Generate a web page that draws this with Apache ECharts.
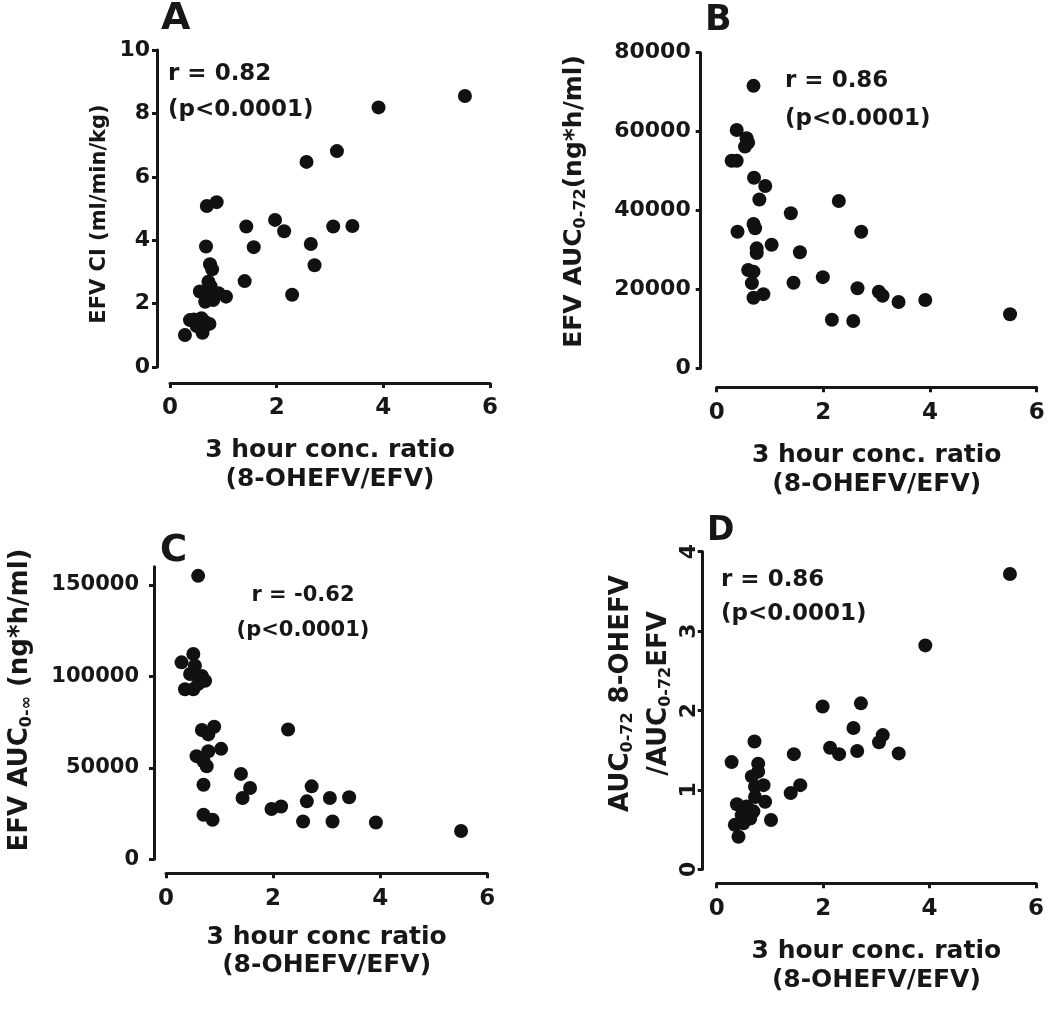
<!DOCTYPE html>
<html><head><meta charset="utf-8">
<script src="https://cdn.jsdelivr.net/npm/echarts@6/dist/echarts.min.js"></script>
<style>html,body{margin:0;padding:0;background:#fff}#c{width:1050px;height:1013px}</style>
</head><body><div id="c"></div><script>
// ---- Panel A: EFV CI vs 3 h ratio
const aX = [5.53, 3.91, 3.13, 2.56, 0.69, 0.875, 1.43, 1.97, 2.14, 3.06, 3.42, 0.675, 1.57, 2.64, 2.71, 0.75, 0.79, 1.40, 2.29, 0.72, 0.56, 0.72, 0.91, 1.05, 0.66, 0.81, 0.76, 0.375, 0.59, 0.74, 0.5, 0.61, 0.28, 0.45, 0.66];
const aY = [8.55, 8.19, 6.81, 6.47, 5.08, 5.20, 4.43, 4.64, 4.28, 4.43, 4.45, 3.80, 3.78, 3.88, 3.21, 3.24, 3.08, 2.71, 2.28, 2.69, 2.38, 2.35, 2.33, 2.22, 2.06, 2.11, 2.55, 1.48, 1.54, 1.36, 1.29, 1.08, 1.01, 1.50, 1.42];
// ---- Panel B: EFV AUC0-72 vs 3 h ratio
const bX = [0.69, 0.375, 0.56, 0.59, 0.53, 0.28, 0.375, 0.70, 0.91, 0.80, 2.29, 1.39, 0.69, 0.72, 0.39, 2.71, 1.03, 0.75, 0.75, 1.56, 0.59, 0.69, 1.99, 1.44, 0.66, 2.64, 3.04, 3.11, 3.41, 3.91, 0.69, 0.875, 5.50, 2.16, 2.56];
const bY = [71600, 60400, 58300, 57200, 56200, 52600, 52600, 48300, 46200, 42800, 42400, 39300, 36600, 35500, 34600, 34600, 31300, 30400, 29200, 29400, 24900, 24500, 23100, 21700, 21600, 20300, 19400, 18400, 16800, 17300, 17900, 18800, 13700, 12300, 12000];
// ---- Panel C: EFV AUC0-inf vs 3 h ratio
const cX = [0.60, 0.51, 0.29, 0.54, 0.67, 0.45, 0.73, 0.355, 0.51, 0.60, 2.28, 0.67, 0.90, 0.79, 1.03, 0.57, 0.79, 0.70, 0.76, 1.40, 0.70, 1.57, 1.43, 2.72, 2.63, 3.06, 3.42, 1.97, 2.15, 0.70, 0.87, 2.56, 3.11, 3.92, 5.51];
const cY = [155000, 112300, 107700, 105800, 100300, 101300, 97600, 93000, 93000, 95800, 71000, 70700, 72500, 68300, 60400, 56400, 59100, 53600, 50900, 46700, 40800, 39000, 33500, 39900, 31700, 33500, 33900, 27500, 28900, 24400, 21600, 20700, 20700, 20100, 15500];
// ---- Panel D: AUC ratio vs 3 h ratio
const dX = [5.51, 3.92, 2.71, 1.99, 2.57, 3.12, 3.05, 2.13, 2.30, 2.64, 3.42, 0.71, 1.45, 0.28, 0.78, 0.78, 0.66, 0.88, 0.72, 0.91, 0.72, 0.38, 0.56, 0.69, 0.47, 0.63, 0.34, 0.50, 0.41, 1.02, 1.57, 1.39];
const dY = [3.72, 2.82, 2.09, 2.05, 1.78, 1.69, 1.60, 1.53, 1.45, 1.49, 1.46, 1.61, 1.45, 1.35, 1.33, 1.23, 1.17, 1.06, 1.04, 0.85, 0.91, 0.82, 0.79, 0.73, 0.68, 0.64, 0.56, 0.58, 0.41, 0.62, 1.06, 0.96];

const cYTicks = [0, 50000, 100000, 150000];
const panelLetters = ['A', 'B', 'C', 'D'];
const rTexts = ['r = 0.82', 'r = 0.86', 'r = -0.62', 'r = 0.86'];
const pText = '(p<0.0001)';
const xNames = ['3 hour conc. ratio\n(8-OHEFV/EFV)', '3 hour conc. ratio\n(8-OHEFV/EFV)', '3 hour conc ratio\n(8-OHEFV/EFV)', '3 hour conc. ratio\n(8-OHEFV/EFV)'];
const yNames = ['EFV CI (ml/min/kg)', 'EFV AUC{sub|0-72}(ng*h/ml)', 'EFV AUC{sub|0-∞} (ng*h/ml)', 'AUC{sub|0-72} 8-OHEFV\n/AUC{sub|0-72}EFV'];

const FONT = '"DejaVu Sans", Verdana, sans-serif';
const INK = '#171717';
const zip = (xs, ys) => xs.map((x, i) => [x, ys[i]]);
const plain = v => String(v);

function xAxis(gi, offset, nameGap) {
  return {
    type: 'value', gridIndex: gi, min: 0, max: 6, interval: 2, offset: offset, position: 'bottom',
    axisLine: { show: true, onZero: false, lineStyle: { color: INK, width: 3 } },
    axisTick: { show: true, length: 5, lineStyle: { color: INK, width: 3 } },
    axisLabel: { margin: 14, fontFamily: FONT, fontWeight: 'bold', fontSize: 23, color: INK, formatter: plain },
    splitLine: { show: false },
    name: xNames[gi], nameLocation: 'middle', nameGap: nameGap, nameMoveOverlap: false,
    nameTextStyle: { fontFamily: FONT, fontWeight: 'bold', fontSize: 25, lineHeight: 28.5, color: INK }
  };
}
function subRich(lh) {
  return { sub: { fontFamily: FONT, fontWeight: 'bold', fontSize: 16, color: INK, lineHeight: lh, padding: [13, 0, 0, 0] } };
}
function yAxis(gi, o) {
  const ax = {
    type: 'value', gridIndex: gi, min: 0, max: o.max, offset: o.offset, position: 'left',
    axisLine: { show: true, onZero: false, lineStyle: { color: INK, width: 3 } },
    axisTick: { show: true, length: 5, lineStyle: { color: INK, width: 3 } },
    axisLabel: { margin: o.margin, fontFamily: FONT, fontWeight: 'bold', fontSize: o.labelSize, color: INK, rotate: o.rotate || 0, formatter: plain },
    splitLine: { show: false },
    name: yNames[gi], nameLocation: 'middle', nameGap: o.nameGap, nameMoveOverlap: false,
    nameTextStyle: { fontFamily: FONT, fontWeight: 'bold', fontSize: o.nameSize, lineHeight: o.lh, color: INK, padding: o.pad, rich: subRich(o.lh) }
  };
  if (o.interval) ax.interval = o.interval;
  if (o.ticks) { ax.axisLabel.customValues = o.ticks; ax.axisTick.customValues = o.ticks; }
  return ax;
}

const grids = [
  { left: 170, top: 50, width: 320, height: 317 },
  { left: 716.7, top: 52.7, width: 320, height: 315.6 },
  { left: 166, top: 566.7, width: 321.3, height: 292.6 },
  { left: 716.7, top: 551.7, width: 319.3, height: 317.6 }
].map(g => Object.assign({ outerBoundsMode: 'none', containLabel: false }, g));

const letterPos = [[161, 19, 38], [705, 20.5, 35], [160, 551.5, 37], [707, 531.5, 33]];
const annot = [
  { x: 168, y1: 74, y2: 110, size: 23, align: 'left' },
  { x: 785, y1: 81, y2: 119, size: 23, align: 'left' },
  { x: 303, y1: 596, y2: 631, size: 21, align: 'center' },
  { x: 721, y1: 580, y2: 614, size: 23, align: 'left' }
];
const graphic = [];
panelLetters.forEach((t, i) => {
  const p = letterPos[i];
  graphic.push({ type: 'text', x: p[0], y: p[1], silent: true,
    style: { text: t, fill: INK, font: 'bold ' + p[2] + 'px ' + FONT, textAlign: 'left', textVerticalAlign: 'middle' } });
});
annot.forEach((a, i) => {
  graphic.push({ type: 'text', x: a.x, y: a.y1, silent: true,
    style: { text: rTexts[i], fill: INK, font: 'bold ' + a.size + 'px ' + FONT, textAlign: a.align, textVerticalAlign: 'middle' } });
  graphic.push({ type: 'text', x: a.x, y: a.y2, silent: true,
    style: { text: pText, fill: INK, font: 'bold ' + a.size + 'px ' + FONT, textAlign: a.align, textVerticalAlign: 'middle' } });
});

const sets = [zip(aX, aY), zip(bX, bY), zip(cX, cY), zip(dX, dY)];
const option = {
  animation: false,
  backgroundColor: '#ffffff',
  grid: grids,
  xAxis: [xAxis(0, 16, 53.5), xAxis(1, 19, 54), xAxis(2, 14, 49.5), xAxis(3, 14, 54)],
  yAxis: [
    yAxis(0, { max: 10, interval: 2, offset: 13, margin: 7, labelSize: 22, nameGap: 44, nameSize: 21, lh: 26, pad: [0, 11, 0, 0] }),
    yAxis(1, { max: 80000, interval: 20000, offset: 16, margin: 10, labelSize: 22, nameGap: 111, nameSize: 25, lh: 30, pad: [0, 0, 0, 18] }),
    yAxis(2, { max: 160000, ticks: cYTicks, offset: 12, margin: 15, labelSize: 21, nameGap: 119, nameSize: 26, lh: 30, pad: [0, 0, 0, 26] }),
    yAxis(3, { max: 4, interval: 1, offset: 14, margin: 2, labelSize: 22, rotate: 90, nameGap: 24, nameSize: 26, lh: 38, pad: [0, 0, 0, 34] })
  ],
  series: sets.map((d, i) => ({
    type: 'scatter', xAxisIndex: i, yAxisIndex: i, data: d, symbol: 'circle', symbolSize: 14,
    itemStyle: { color: '#111111', opacity: 1 }, silent: true
  })),
  graphic: graphic
};
const chart = echarts.init(document.getElementById('c'), null, { renderer: 'canvas' });
chart.setOption(option);
</script></body></html>
